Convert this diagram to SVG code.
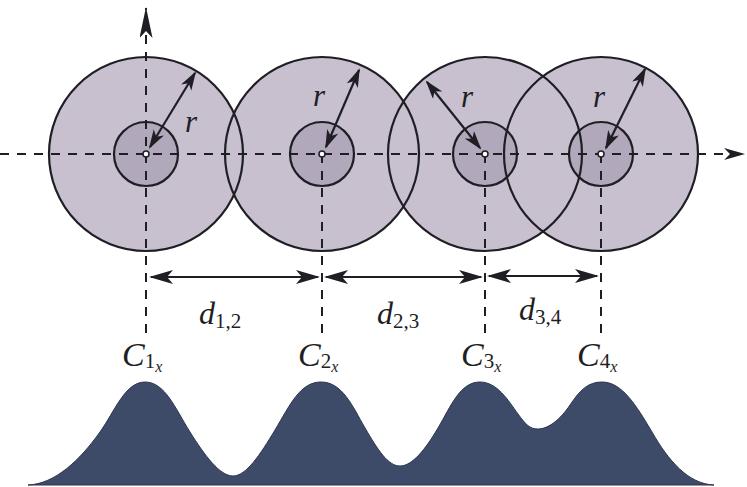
<svg xmlns="http://www.w3.org/2000/svg" width="747" height="487" viewBox="0 0 747 487">
<style>
.big{fill:#c8c0cf;stroke:none}
.small{fill:#b1a8bb;stroke:none}
.ring{fill:none;stroke:#1e1e24;stroke-width:2.2}
.dot{fill:#fff;stroke:#1e1e24;stroke-width:1.5}
.dash{fill:none;stroke:#1e1e24;stroke-width:2;stroke-dasharray:9 8}
.arr{fill:none;stroke:#1e1e24;stroke-width:2.2}
.it{font-family:"Liberation Serif","Times New Roman",serif;font-style:italic;fill:#1e1e24}
.sub{font-family:"Liberation Serif","Times New Roman",serif;font-style:normal;fill:#1e1e24}
</style>
<defs>
<marker id="ah" markerUnits="userSpaceOnUse" markerWidth="28" markerHeight="16" refX="22" refY="7" orient="auto-start-reverse">
<path d="M0,0 L24,7 L0,14 L6,7 Z" fill="#1e1e24"/>
</marker>
<marker id="ahs" markerUnits="userSpaceOnUse" markerWidth="22" markerHeight="14" refX="17" refY="6" orient="auto-start-reverse">
<path d="M0,0 L19,6 L0,12 L5,6 Z" fill="#1e1e24"/>
</marker>
<marker id="ahx" markerUnits="userSpaceOnUse" markerWidth="24" markerHeight="14" refX="20" refY="6" orient="auto">
<path d="M0,0 L21,6 L0,12 L6,6 Z" fill="#1e1e24"/>
</marker>
<marker id="ahy" markerUnits="userSpaceOnUse" markerWidth="34" markerHeight="14" refX="30" refY="6.5" orient="auto">
<path d="M0,0 L31,6.5 L0,13 L7,6.5 Z" fill="#1e1e24"/>
</marker>
</defs>

<g id="distribution">
<path fill="#3e4b68" stroke="#2c3450" stroke-width="1" d="M28,485 C55,484 80,460 100,432 C115,411 125,382 145,382 C165,382 175,408 190,432 C205,456 220,476 233,476 C246,476 260,455 275,430 C290,405 300,382 321,382 C342,382 352,405 365,428 C378,450 388,466 400,466 C412,466 425,450 438,428 C451,406 460,382 480,382 C497,382 508,400 518,414 C526,425 530,429 538,429 C548,429 560,420 570,405 C580,390 588,382 602,382 C622,382 636,405 652,432 C668,460 688,484 714,485 Z"/>
</g>

<g id="fills">
<circle class="big" cx="146" cy="154" r="97"/>
<circle class="big" cx="322" cy="154" r="97"/>
<circle class="big" cx="485" cy="154" r="97"/>
<circle class="big" cx="601" cy="154" r="97"/>
<circle class="small" cx="146" cy="154" r="32"/>
<circle class="small" cx="322" cy="154" r="32"/>
<circle class="small" cx="485" cy="154" r="32"/>
<circle class="small" cx="601" cy="154" r="32"/>
</g>

<g id="node1">
<circle class="ring" cx="146" cy="154" r="97"/>
<circle class="ring" cx="146" cy="154" r="32"/>
</g>
<g id="node2">
<circle class="ring" cx="322" cy="154" r="97"/>
<circle class="ring" cx="322" cy="154" r="32"/>
</g>
<g id="node3">
<circle class="ring" cx="485" cy="154" r="97"/>
<circle class="ring" cx="485" cy="154" r="32"/>
</g>
<g id="node4">
<circle class="ring" cx="601" cy="154" r="97"/>
<circle class="ring" cx="601" cy="154" r="32"/>
</g>

<g id="connectors">
<line class="dash" x1="0" y1="154" x2="744" y2="154" marker-end="url(#ahx)"/>
<line class="dash" x1="146" y1="333" x2="146" y2="8" marker-end="url(#ahy)"/>
<line class="dash" x1="322" y1="154" x2="322" y2="333"/>
<line class="dash" x1="485" y1="154" x2="485" y2="333"/>
<line class="dash" x1="601" y1="154" x2="601" y2="333"/>
<line class="arr" x1="150" y1="147" x2="195" y2="73" marker-start="url(#ahs)" marker-end="url(#ahs)"/>
<line class="arr" x1="326" y1="147" x2="359" y2="70" marker-start="url(#ahs)" marker-end="url(#ahs)"/>
<line class="arr" x1="480" y1="148" x2="427" y2="82" marker-start="url(#ahs)" marker-end="url(#ahs)"/>
<line class="arr" x1="606" y1="148" x2="645" y2="69" marker-start="url(#ahs)" marker-end="url(#ahs)"/>
<line class="arr" x1="151" y1="277" x2="318" y2="277" marker-start="url(#ah)" marker-end="url(#ah)"/>
<line class="arr" x1="326" y1="277" x2="481" y2="277" marker-start="url(#ah)" marker-end="url(#ah)"/>
<line class="arr" x1="489" y1="276" x2="597" y2="276" marker-start="url(#ah)" marker-end="url(#ah)"/>
</g>

<g id="centers">
<circle class="dot" cx="146" cy="154" r="3"/>
<circle class="dot" cx="322" cy="154" r="3"/>
<circle class="dot" cx="485" cy="154" r="3"/>
<circle class="dot" cx="601" cy="154" r="3"/>
</g>

<g id="labels">
<text class="it" x="185" y="132" font-size="31">r</text>
<text class="it" x="313" y="106" font-size="31">r</text>
<text class="it" x="461" y="107" font-size="31">r</text>
<text class="it" x="593" y="107" font-size="31">r</text>
<text class="it" x="199" y="324" font-size="32">d<tspan class="sub" font-size="21" dy="4">1,2</tspan></text>
<text class="it" x="377" y="324" font-size="32">d<tspan class="sub" font-size="21" dy="4">2,3</tspan></text>
<text class="it" x="519" y="320" font-size="32">d<tspan class="sub" font-size="21" dy="4">3,4</tspan></text>
<text class="it" x="122" y="366" font-size="34">C<tspan class="sub" font-size="21" dy="2">1</tspan><tspan font-size="16" dy="4">x</tspan></text>
<text class="it" x="298" y="366" font-size="34">C<tspan class="sub" font-size="21" dy="2">2</tspan><tspan font-size="16" dy="4">x</tspan></text>
<text class="it" x="461" y="366" font-size="34">C<tspan class="sub" font-size="21" dy="2">3</tspan><tspan font-size="16" dy="4">x</tspan></text>
<text class="it" x="577" y="366" font-size="34">C<tspan class="sub" font-size="21" dy="2">4</tspan><tspan font-size="16" dy="4">x</tspan></text>
</g>
</svg>
